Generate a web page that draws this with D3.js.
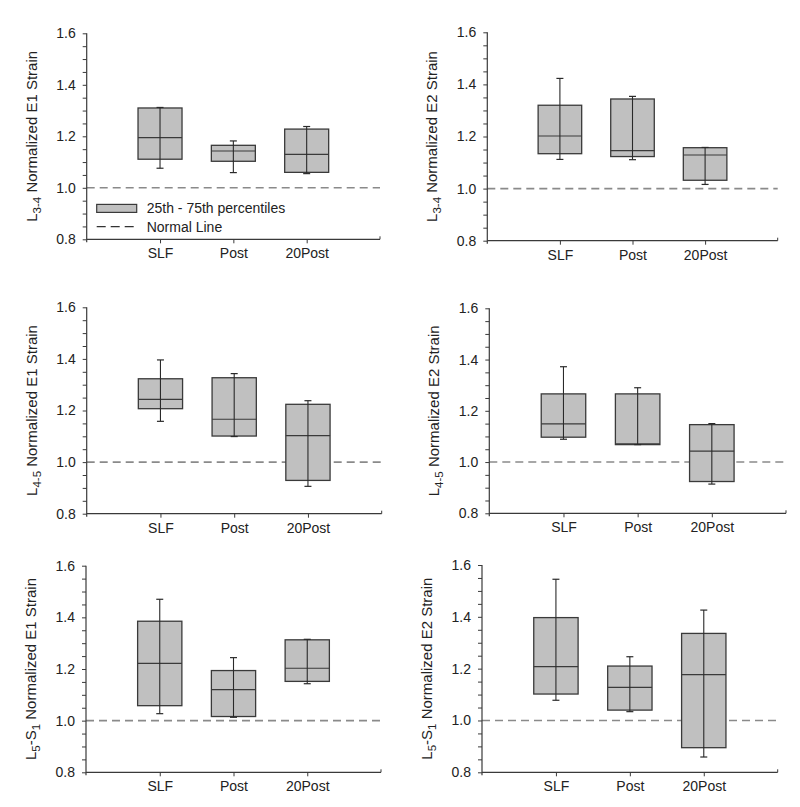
<!DOCTYPE html>
<html>
<head>
<meta charset="utf-8">
<script src="https://cdn.jsdelivr.net/npm/d3@7"></script>
<style>
  html, body { margin: 0; padding: 0; background: #fff; }
  svg { display: block; }
  text { font-family: "Liberation Sans", Arial, sans-serif; fill: #222; }
</style>
</head>
<body>
<div id="chart"></div>
<script>
// ---------- DATA ----------
const categories = ["SLF", "Post", "20Post"];
const yTicks = [0.8, 1.0, 1.2, 1.4, 1.6];
const normalValue = 1.0;
// each row: [whiskerLow, q1, median, q3, whiskerHigh] for SLF, Post, 20Post
const L34_E1 = [[1.076, 1.111, 1.195, 1.310, 1.312], [1.059, 1.103, 1.143, 1.165, 1.182], [1.055, 1.060, 1.130, 1.228, 1.238]];
const L34_E2 = [[1.112, 1.134, 1.202, 1.320, 1.423], [1.111, 1.123, 1.146, 1.344, 1.354], [1.016, 1.032, 1.129, 1.157, 1.158]];
const L45_E1 = [[1.158, 1.207, 1.243, 1.323, 1.396], [1.099, 1.101, 1.166, 1.327, 1.343], [0.906, 0.929, 1.103, 1.224, 1.238]];
const L45_E2 = [[1.089, 1.097, 1.149, 1.266, 1.372], [1.068, 1.068, 1.071, 1.266, 1.290], [0.914, 0.924, 1.043, 1.146, 1.150]];
const L5S1_E1 = [[1.027, 1.058, 1.222, 1.385, 1.470], [1.013, 1.016, 1.120, 1.194, 1.244], [1.143, 1.152, 1.203, 1.313, 1.315]];
const L5S1_E2 = [[1.078, 1.102, 1.208, 1.397, 1.545], [1.034, 1.040, 1.128, 1.210, 1.246], [0.859, 0.895, 1.177, 1.336, 1.426]];
// axis title pieces: [text, isSubscript]
const title34E1 = [["L", 0], ["3-4", 1], [" Normalized E1 Strain", 0]];
const title34E2 = [["L", 0], ["3-4", 1], [" Normalized E2 Strain", 0]];
const title45E1 = [["L", 0], ["4-5", 1], [" Normalized E1 Strain", 0]];
const title45E2 = [["L", 0], ["4-5", 1], [" Normalized E2 Strain", 0]];
const title5S1E1 = [["L", 0], ["5", 1], ["-S", 0], ["1", 1], [" Normalized E1 Strain", 0]];
const title5S1E2 = [["L", 0], ["5", 1], ["-S", 0], ["1", 1], [" Normalized E2 Strain", 0]];
const legendLabels = ["25th - 75th percentiles", "Normal Line"];

// ---------- LAYOUT ----------
const W = 800, H = 807;
const panels = [
  { data: L34_E1, title: title34E1, x0: 86.7, x1: 380, yT: 33.3, yB: 239.3, legend: true },
  { data: L34_E2, title: title34E2, x0: 487.3, x1: 777.7, yT: 32.3, yB: 240.7 },
  { data: L45_E1, title: title45E1, x0: 86.7, x1: 381.7, yT: 307.3, yB: 513.7 },
  { data: L45_E2, title: title45E2, x0: 489.3, x1: 786, yT: 308.3, yB: 513.3 },
  { data: L5S1_E1, title: title5S1E1, x0: 86, x1: 381, yT: 565.7, yB: 772.3 },
  { data: L5S1_E2, title: title5S1E2, x0: 482, x1: 777.7, yT: 565, yB: 772.3 }
];

const axisColor = "#3a3a3a";
const boxFill = "#c0c0c0";
const boxStroke = "#3a3a3a";
const dashColor = "#8a8a8a";

const svg = d3.select("#chart").append("svg").attr("width", W).attr("height", H);

panels.forEach(p => {
  const g = svg.append("g");
  const x = d3.scaleLinear().domain([0, categories.length + 1]).range([p.x0, p.x1]);
  const y = d3.scaleLinear().domain([0.8, 1.6]).range([p.yB, p.yT]);
  const step = x(1) - x(0);
  const bw = step * 0.6;

  // normal line
  g.append("line")
    .attr("x1", x(0)).attr("x2", x(categories.length + 1))
    .attr("y1", y(normalValue)).attr("y2", y(normalValue))
    .attr("stroke", dashColor).attr("stroke-width", 1.6)
    .attr("stroke-dasharray", "8,5");

  // boxes
  const items = categories.map((c, i) => ({ c, i, v: p.data[i] }));
  const bx = g.selectAll("g.box").data(items).enter().append("g").attr("class", "box");
  bx.append("rect")
    .attr("x", d => x(d.i + 1) - bw / 2)
    .attr("width", bw)
    .attr("y", d => y(d.v[3]))
    .attr("height", d => y(d.v[1]) - y(d.v[3]))
    .attr("fill", boxFill).attr("stroke", boxStroke).attr("stroke-width", 1.3);
  bx.append("line")
    .attr("x1", d => x(d.i + 1) - bw / 2).attr("x2", d => x(d.i + 1) + bw / 2)
    .attr("y1", d => y(d.v[2])).attr("y2", d => y(d.v[2]))
    .attr("stroke", boxStroke).attr("stroke-width", 1.2);
  bx.append("line")
    .attr("x1", d => x(d.i + 1)).attr("x2", d => x(d.i + 1))
    .attr("y1", d => y(d.v[0])).attr("y2", d => y(d.v[4]))
    .attr("stroke", "#2a2a2a").attr("stroke-width", 1.1);
  [0, 4].forEach(k => {
    bx.append("line")
      .attr("x1", d => x(d.i + 1) - 3.5).attr("x2", d => x(d.i + 1) + 3.5)
      .attr("y1", d => y(d.v[k])).attr("y2", d => y(d.v[k]))
      .attr("stroke", "#2a2a2a").attr("stroke-width", 1.2);
  });

  // y axis
  const minor = d3.range(0.8, 1.6001, 0.05);
  const yAxis = d3.axisLeft(y).tickValues(minor).tickSize(4).tickPadding(7)
    .tickFormat(d => (yTicks.some(t => Math.abs(t - d) < 1e-6) ? d3.format(".1f")(d) : ""));
  const ya = g.append("g").attr("transform", `translate(${p.x0},0)`).call(yAxis);
  ya.select(".domain").attr("stroke", axisColor).attr("stroke-width", 1.2).attr("d", `M0,${p.yT}V${p.yB + 3}`);
  ya.selectAll(".tick line").attr("stroke", axisColor).attr("stroke-width", 1);
  ya.selectAll(".tick text").style("font-size", "14px").attr("fill", "#222")
    .style("font-family", "'Liberation Sans', Arial, sans-serif");

  // x axis
  const xAxis = d3.axisBottom(x).tickValues(d3.range(1, categories.length + 1)).tickSize(4).tickPadding(5)
    .tickFormat(d => categories[d - 1]);
  const xa = g.append("g").attr("transform", `translate(0,${p.yB})`).call(xAxis);
  xa.select(".domain").attr("stroke", axisColor).attr("stroke-width", 1.2).attr("d", `M${p.x0},0H${p.x1}`);
  xa.selectAll(".tick line").attr("stroke", axisColor).attr("stroke-width", 1);
  xa.selectAll(".tick text").style("font-size", "14px").attr("fill", "#222")
    .style("font-family", "'Liberation Sans', Arial, sans-serif");
  xa.append("line").attr("x1", p.x1).attr("x2", p.x1).attr("y1", -3).attr("y2", 0)
    .attr("stroke", axisColor).attr("stroke-width", 1);

  // axis title
  const cy = (p.yT + p.yB) / 2;
  const t = g.append("text")
    .attr("transform", `translate(${p.x0 - 50},${cy}) rotate(-90)`)
    .attr("text-anchor", "middle")
    .style("font-size", "15px");
  let prevSub = 0;
  p.title.forEach(([s, sub]) => {
    const ts = t.append("tspan").text(s);
    if (sub) { ts.style("font-size", "11.5px"); }
    const dy = (sub ? 4 : 0) - (prevSub ? 4 : 0);
    if (dy !== 0) ts.attr("dy", dy);
    prevSub = sub;
  });

  // legend
  if (p.legend) {
    const lx = p.x0 + 10, ly = y(0.92);
    g.append("rect").attr("x", lx).attr("y", ly - 4).attr("width", 40).attr("height", 8)
      .attr("fill", boxFill).attr("stroke", boxStroke).attr("stroke-width", 1.2);
    g.append("text").attr("x", lx + 50).attr("y", ly + 5).style("font-size", "14px").text(legendLabels[0]);
    const ly2 = ly + 18.3;
    g.append("line").attr("x1", lx).attr("x2", lx + 40).attr("y1", ly2).attr("y2", ly2)
      .attr("stroke", "#333").attr("stroke-width", 1.3).attr("stroke-dasharray", "9,5");
    g.append("text").attr("x", lx + 50).attr("y", ly2 + 5).style("font-size", "14px").text(legendLabels[1]);
  }
});
</script>
</body>
</html>
